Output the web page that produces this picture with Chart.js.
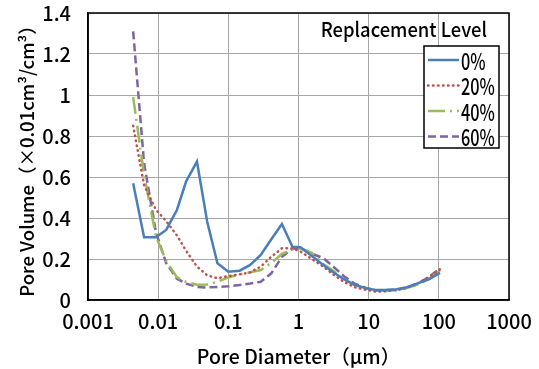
<!DOCTYPE html>
<html>
<head>
<meta charset="utf-8">
<script src="https://cdn.jsdelivr.net/npm/chart.js@4.4.1/dist/chart.umd.min.js"></script>
<style>
  html, body { margin: 0; padding: 0; background: #fff; }
  #wrap { width: 539px; height: 369px; }
</style>
</head>
<body>
<div id="wrap"><canvas id="poreChart"></canvas></div>
<script>
// Pore diameter (um), shared by all series
var poreDiameter = [0.0044, 0.0063, 0.0093, 0.013, 0.0185, 0.025, 0.0357, 0.05, 0.07, 0.1,
                    0.145, 0.205, 0.29, 0.41, 0.58, 0.82, 1.07, 1.55, 2.25, 3.2,
                    4.5, 6.3, 9, 12.6, 18, 25, 35, 50, 71, 104];

// Pore volume (x0.01 cm3/cm3) per replacement level
var vol0  = [0.569, 0.306, 0.306, 0.342, 0.439, 0.578, 0.675, 0.382, 0.179, 0.138,
             0.143, 0.171, 0.22, 0.296, 0.371, 0.26, 0.257, 0.215, 0.171, 0.133,
             0.10, 0.075, 0.058, 0.049, 0.05, 0.053, 0.062, 0.081, 0.10, 0.132];
var vol20 = [0.85, 0.56, 0.44, 0.385, 0.315, 0.24, 0.163, 0.12, 0.106, 0.117,
             0.125, 0.135, 0.163, 0.211, 0.252, 0.252, 0.236, 0.20, 0.163, 0.122,
             0.087, 0.062, 0.05, 0.041, 0.043, 0.049, 0.06, 0.081, 0.11, 0.15];
var vol40 = [0.99, 0.61, 0.31, 0.19, 0.111, 0.088, 0.075, 0.076, 0.089, 0.11,
             0.125, 0.135, 0.146, 0.18, 0.225, 0.246, 0.252, 0.23, 0.175, 0.14,
             0.10, 0.072, 0.058, 0.046, 0.044, 0.048, 0.058, 0.075, 0.10, 0.145];
var vol60 = [1.31, 0.667, 0.33, 0.18, 0.104, 0.08, 0.064, 0.061, 0.064, 0.067,
             0.073, 0.08, 0.089, 0.13, 0.211, 0.25, 0.252, 0.225, 0.205, 0.16,
             0.115, 0.08, 0.06, 0.046, 0.045, 0.05, 0.06, 0.08, 0.11, 0.155];

var levelLabels = ['0%', '20%', '40%', '60%'];
var xTicks = [0.001, 0.01, 0.1, 1, 10, 100, 1000];
var xTickLabels = ['0.001', '0.01', '0.1', '1', '10', '100', '1000'];

var FONT = '"Noto Sans CJK JP", sans-serif';

function toPoints(ys) {
    return ys.map(function (y, i) { return { x: poreDiameter[i], y: y }; });
}

// legend + plot frame, drawn inside the chart area like the original
var legendPlugin = {
    id: 'boxLegend',
    afterDraw: function (chart) {
        var c = chart.ctx, a = chart.chartArea;
        c.save();
        c.strokeStyle = '#000';
        c.lineWidth = 1.5;
        c.strokeRect(a.left, a.top, a.right - a.left, a.bottom - a.top);

        c.fillStyle = '#000';
        c.textBaseline = 'middle';
        // narrow lettering like the original
        c.save();
        c.font = '500 20px ' + FONT;
        c.textAlign = 'right';
        c.translate(a.right - 22, a.top + 16);
        c.scale(0.92, 1);
        c.fillText('Replacement Level', 0, 0);
        c.restore();

        var bx = a.right - 85, by = a.top + 33, bw = 75, bh = 102;
        c.fillStyle = '#fff';
        c.fillRect(bx, by, bw, bh);
        c.lineWidth = 1.5;
        c.strokeRect(bx, by, bw, bh);

        chart.data.datasets.forEach(function (ds, i) {
            var y = by + 14 + i * 25.5;
            c.beginPath();
            c.strokeStyle = ds.borderColor;
            c.lineWidth = ds.borderWidth;
            c.lineCap = ds.borderCapStyle || 'butt';
            c.setLineDash(ds.borderDash || []);
            c.moveTo(bx + 4, y);
            c.lineTo(bx + 35, y);
            c.stroke();
            c.setLineDash([]);
            c.save();
            c.fillStyle = '#000';
            c.textAlign = 'left';
            c.font = '500 23px ' + FONT;
            c.translate(bx + 37, y + 1);
            c.scale(0.71, 1);
            c.fillText(ds.label, 0, 0);
            c.restore();
        });
        c.restore();
    }
};

var ctx = document.getElementById('poreChart').getContext('2d');

var chart = new Chart(ctx, {
    type: 'line',
    data: {
        datasets: [{
            label: levelLabels[0],
            data: toPoints(vol0),
            borderColor: '#4a7ebb',
            borderWidth: 2.5
        }, {
            label: levelLabels[1],
            data: toPoints(vol20),
            borderColor: '#c0504d',
            borderWidth: 2.5,
            borderDash: [0.5, 4.5],
            borderCapStyle: 'round'
        }, {
            label: levelLabels[2],
            data: toPoints(vol40),
            borderColor: '#9bbb59',
            borderWidth: 2.5,
            borderDash: [17, 5, 2, 5]
        }, {
            label: levelLabels[3],
            data: toPoints(vol60),
            borderColor: '#8064a2',
            borderWidth: 2.5,
            borderDash: [8, 4]
        }]
    },
    options: {
        responsive: true,
        maintainAspectRatio: false,
        animation: false,
        layout: { padding: { top: 13, right: 30, left: 0, bottom: 0 } },
        elements: {
            point: { radius: 0 },
            line: { tension: 0, fill: false }
        },
        plugins: {
            legend: { display: false },
            tooltip: { enabled: false }
        },
        scales: {
            x: {
                type: 'logarithmic',
                min: 0.001,
                max: 1000,
                afterBuildTicks: function (axis) {
                    axis.ticks = xTicks.map(function (v) { return { value: v }; });
                },
                afterFit: function (axis) {
                    axis.height = 69;
                    axis.paddingLeft = 0;
                    axis.paddingRight = 0;
                },
                grid: { color: '#a6a6a6', lineWidth: 1, drawTicks: false },
                border: { color: '#000', width: 1.5 },
                ticks: {
                    color: '#000',
                    padding: 9,
                    autoSkip: false,
                    maxRotation: 0,
                    font: { family: FONT, size: 20, weight: 500 },
                    callback: function (value) {
                        var i = xTicks.indexOf(value);
                        return i >= 0 ? xTickLabels[i] : '';
                    }
                },
                title: {
                    display: true,
                    text: 'Pore Diameter（μm）',
                    color: '#000',
                    font: { family: FONT, size: 19.5, weight: 500 },
                    padding: { top: 0, bottom: 1 }
                }
            },
            y: {
                min: 0,
                max: 1.4,
                afterFit: function (axis) {
                    axis.width = 88;
                    axis.paddingTop = 0;
                    axis.paddingBottom = 0;
                },
                grid: { color: '#a6a6a6', lineWidth: 1, drawTicks: false },
                border: { color: '#000', width: 1.5 },
                ticks: {
                    stepSize: 0.2,
                    color: '#000',
                    padding: 17,
                    font: { family: FONT, size: 20, weight: 500 },
                    callback: function (value) {
                        return Math.round(value * 10) / 10;
                    }
                },
                title: {
                    display: true,
                    text: 'Pore Volume（×0.01cm³/cm³）',
                    color: '#000',
                    font: { family: FONT, size: 18.5, weight: 500 },
                    padding: { top: 16, bottom: 0 }
                }
            }
        }
    },
    plugins: [legendPlugin]
});
</script>
</body>
</html>
